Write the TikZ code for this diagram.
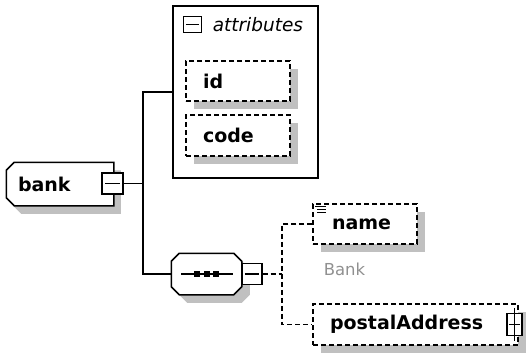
\documentclass[tikz,border=0pt]{standalone}
\usepackage{fontspec}
\setmainfont{DejaVu Sans}
\usetikzlibrary{shadows,backgrounds,calc}
\definecolor{shgray}{HTML}{C0C0C0}
\definecolor{txtgray}{HTML}{909090}
\begin{document}
\begin{tikzpicture}[x=1pt,y=-1pt,line width=1.5pt,
  solidline/.style={line width=1.5pt},
  dashline/.style={line width=1.5pt, dash pattern=on 5pt off 3pt},
  boxlabel/.style={font=\fontsize{19}{22}\selectfont\bfseries, align=left, inner ysep=0pt},
  elshadow/.style={drop shadow={shadow xshift=8pt,shadow yshift=-8pt,fill=shgray,opacity=1}},
  optbox/.style={boxlabel, draw, dashline, fill=white, elshadow, inner xsep=17pt},
  iconbox/.style={draw, fill=white, inner sep=0pt, line width=1.4pt},
  iconline/.style={line width=1.4pt},
]
\useasboundingbox (0,0) rectangle (526,353);

% attributes group
\node[draw, solidline, minimum width=145pt, minimum height=172pt, inner sep=0pt] (attr) at (245.5,92) {};
\node[iconbox, minimum width=18pt, minimum height=16pt] (attrminus) at (192.5,24.5) {};
\draw[iconline] ([xshift=3pt]attrminus.west) -- ([xshift=-3pt]attrminus.east);
\node[font=\fontsize{18.5}{20}\selectfont\itshape, anchor=west, inner sep=0pt] (attrlabel) at (212,25) {attributes};
\node[optbox, text width=70pt, minimum height=40pt] (id) at (238,81) {id};
\node[optbox, text width=70pt, minimum height=41pt] (code) at (238,135.5) {code};

% bank element
\node[boxlabel, text width=84pt, inner xsep=11pt, minimum height=42pt] (bank) at (60,184) {bank};
\begin{scope}[on background layer]
  \fill[shgray, transform canvas={xshift=7pt,yshift=-8pt}]
    ([xshift=8pt]bank.north west) -- (bank.north east) -- (bank.south east)
    -- ([xshift=8pt]bank.south west) -- ([yshift=8pt]bank.south west)
    -- ([yshift=-8pt]bank.north west) -- cycle;
  \draw[solidline, fill=white]
    ([xshift=8pt]bank.north west) -- (bank.north east) -- (bank.south east)
    -- ([xshift=8pt]bank.south west) -- ([yshift=8pt]bank.south west)
    -- ([yshift=-8pt]bank.north west) -- cycle;
\end{scope}
\node[iconbox, minimum width=21pt, minimum height=21pt] (bankminus) at (112.5,183.5) {};
\draw[iconline] ([xshift=4pt]bankminus.west) -- ([xshift=-4pt]bankminus.east);

% sequence compositor
\node[minimum width=69pt, minimum height=40pt, inner sep=0pt] (seq) at (206.5,274) {};
\begin{scope}[on background layer]
  \fill[shgray, transform canvas={xshift=8pt,yshift=-8pt}]
    ([xshift=8pt]seq.north west) -- ([xshift=-8pt]seq.north east)
    -- ([yshift=-8pt]seq.north east) -- ([yshift=8pt]seq.south east)
    -- ([xshift=-8pt]seq.south east) -- ([xshift=8pt]seq.south west)
    -- ([yshift=8pt]seq.south west) -- ([yshift=-8pt]seq.north west) -- cycle;
  \draw[solidline, fill=white]
    ([xshift=8pt]seq.north west) -- ([xshift=-8pt]seq.north east)
    -- ([yshift=-8pt]seq.north east) -- ([yshift=8pt]seq.south east)
    -- ([xshift=-8pt]seq.south east) -- ([xshift=8pt]seq.south west)
    -- ([yshift=8pt]seq.south west) -- ([yshift=-8pt]seq.north west) -- cycle;
\end{scope}
\draw[iconline] ([xshift=10pt]seq.west) -- ([xshift=-9pt]seq.east);
\fill ([shift={(-12.5,-3)}]seq.center) rectangle ++(6,6);
\fill ([shift={(-3,-3)}]seq.center) rectangle ++(6,6);
\fill ([shift={(6.5,-3)}]seq.center) rectangle ++(6,6);
\node[iconbox, minimum width=20pt, minimum height=21pt] (seqminus) at (252,274) {};
\draw[iconline] ([xshift=3.5pt]seqminus.west) -- ([xshift=-3.5pt]seqminus.east);

% child elements
\node[optbox, inner xsep=19pt, text width=66pt, minimum height=40pt] (name) at (365,224) {name};
\draw[line width=1.1pt] ([shift={(3,3)}]name.north west) -- ++(11,0);
\draw[line width=1.1pt] ([shift={(5,6)}]name.north west) -- ++(9,0);
\draw[line width=1.1pt] ([shift={(5,9)}]name.north west) -- ++(9,0);
\node[font=\fontsize{16.5}{18}\selectfont, text=txtgray, anchor=base west, inner sep=0pt] (namedoc) at (323,275) {Bank};
\node[optbox, text width=171pt, minimum height=41pt] (postal) at (415.5,324.5) {postalAddress};
\node[iconbox, minimum width=15pt, minimum height=22pt] (postalplus) at (514.5,324.5) {};
\draw[iconline] ([xshift=2.5pt]postalplus.west) -- ([xshift=-2.5pt]postalplus.east);
\draw[iconline] ([yshift=5pt]postalplus.north) -- ([yshift=-5pt]postalplus.south);

% connectors
\coordinate (j1) at (143,183.5);
\draw[solidline] (bankminus.east) -- (j1);
\draw[solidline] (attr.west) -| (j1) |- (seq.west);
\coordinate (j2) at (282,274);
\draw[dashline] (seqminus.east) -- (j2);
\draw[dashline] (name.west) -| (j2) |- (postal.west);
\end{tikzpicture}
\end{document}
